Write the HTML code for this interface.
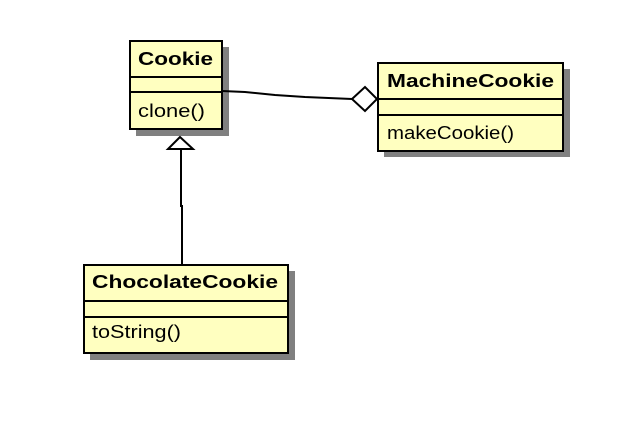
<!DOCTYPE html>
<html><head><style>
body{margin:0;background:#fff;width:627px;height:424px;overflow:hidden}
</style></head><body>
<svg width="627" height="424" xmlns="http://www.w3.org/2000/svg" font-family="Liberation Sans, Arial, sans-serif">
<g fill="#808080">
<rect x="136" y="47" width="93" height="89"/>
<rect x="384" y="69" width="186" height="88"/>
<rect x="90" y="271" width="205" height="89"/>
</g>
<g fill="#ffffc0" stroke="#000" stroke-width="2">
<rect x="130" y="41" width="92" height="88"/>
<rect x="378" y="63" width="185" height="88"/>
<rect x="84" y="265" width="204" height="88"/>
</g>
<g stroke="#000" stroke-width="2">
<line x1="130" y1="77" x2="222" y2="77"/><line x1="130" y1="92" x2="222" y2="92"/>
<line x1="378" y1="99" x2="563" y2="99"/><line x1="378" y1="115" x2="563" y2="115"/>
<line x1="84" y1="301" x2="288" y2="301"/><line x1="84" y1="317" x2="288" y2="317"/>
</g>
<g fill="#000" font-size="18.5">
<text x="138" y="65" font-weight="bold" textLength="75" lengthAdjust="spacingAndGlyphs">Cookie</text>
<text x="138" y="117" textLength="67" lengthAdjust="spacingAndGlyphs">clone()</text>
<text x="387" y="87" font-weight="bold" textLength="167" lengthAdjust="spacingAndGlyphs">MachineCookie</text>
<text x="387" y="139" textLength="127" lengthAdjust="spacingAndGlyphs">makeCookie()</text>
<text x="92" y="288" font-weight="bold" textLength="186" lengthAdjust="spacingAndGlyphs">ChocolateCookie</text>
<text x="92" y="338" textLength="89" lengthAdjust="spacingAndGlyphs">toString()</text>
</g>
<polyline points="222,91 245,92 275,95 305,97 352,99" fill="none" stroke="#000" stroke-width="2"/>
<polygon points="352,99 365,87 377,99 365,111" fill="#fff" stroke="#000" stroke-width="2"/>
<polyline points="181,149 181,206 182,206 182,264" fill="none" stroke="#000" stroke-width="2"/>
<polygon points="180,137 168,149 193,149" fill="#fff" stroke="#000" stroke-width="2"/>
</svg>
</body></html>
